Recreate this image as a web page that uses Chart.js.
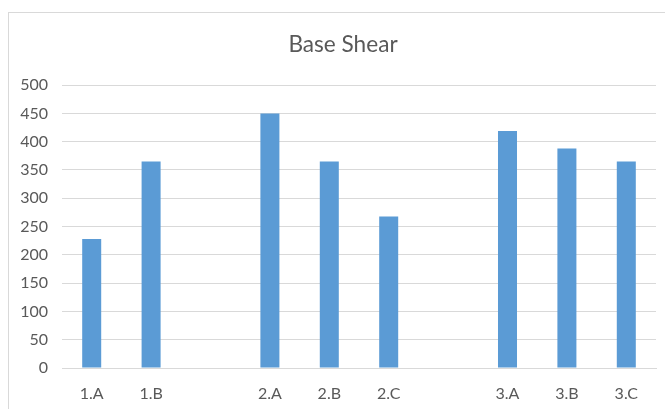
<!DOCTYPE html>
<html>
<head>
<meta charset="utf-8">
<script src="https://cdn.jsdelivr.net/npm/chart.js@4.4.0/dist/chart.umd.min.js"></script>
<style>
  html, body { margin: 0; padding: 0; background: #ffffff; overflow: hidden; width: 665px; height: 409px; }
  #frame { position: absolute; left: 8px; top: 12px; width: 720px; height: 460px; border: 1px solid #d9d9d9; box-sizing: border-box; }
  #wrap { position: absolute; left: 0; top: 0; width: 686px; height: 409px; }
</style>
</head>
<body>
<div id="frame"></div>
<div id="wrap"><canvas id="c"></canvas></div>
<script>
const chartTitle = 'Base Shear';
const categories = ['1.A', '1.B', '', '2.A', '2.B', '2.C', '', '3.A', '3.B', '3.C'];
const baseShear = [228, 365, null, 450, 365, 268, null, 419, 388, 365];
const yTicks = [0, 50, 100, 150, 200, 250, 300, 350, 400, 450, 500];

const textColor = '#595959';
const gridColor = '#d9d9d9';

new Chart(document.getElementById('c'), {
  type: 'bar',
  data: {
    labels: categories,
    datasets: [{
      label: chartTitle,
      data: baseShear,
      backgroundColor: '#5b9bd5',
      borderWidth: 0,
      barPercentage: 0.32,
      categoryPercentage: 1.0
    }]
  },
  options: {
    responsive: true,
    maintainAspectRatio: false,
    animation: false,
    layout: { padding: { left: 0, right: 0, top: 0, bottom: 0 } },
    plugins: {
      legend: { display: false },
      tooltip: { enabled: false },
      title: {
        display: true,
        text: chartTitle,
        color: textColor,
        font: { family: 'Lato', size: 22.6, weight: 'normal', lineHeight: 1.2 },
        padding: { top: 31, bottom: 27 }
      }
    },
    scales: {
      x: {
        grid: { display: false, drawTicks: false },
        border: { display: true, color: gridColor, width: 1 },
        ticks: {
          color: textColor,
          font: { family: 'Lato', size: 16 },
          padding: 16,
          autoSkip: false,
          maxRotation: 0
        },
        afterFit: (s) => { s.height = 41; }
      },
      y: {
        min: 0,
        max: 500,
        afterBuildTicks: (s) => { s.ticks = yTicks.map(v => ({ value: v })); },
        grid: { color: gridColor, lineWidth: 1, drawTicks: false },
        border: { display: false },
        ticks: {
          color: textColor,
          font: { family: 'Lato', size: 16 },
          padding: 14
        },
        afterFit: (s) => { s.width = 62; }
      },
      yRightSpace: {
        position: 'right',
        display: true,
        grid: { display: false, drawTicks: false },
        border: { display: false },
        ticks: { display: false },
        afterFit: (s) => { s.width = 30; }
      }
    }
  }
});
</script>
</body>
</html>
